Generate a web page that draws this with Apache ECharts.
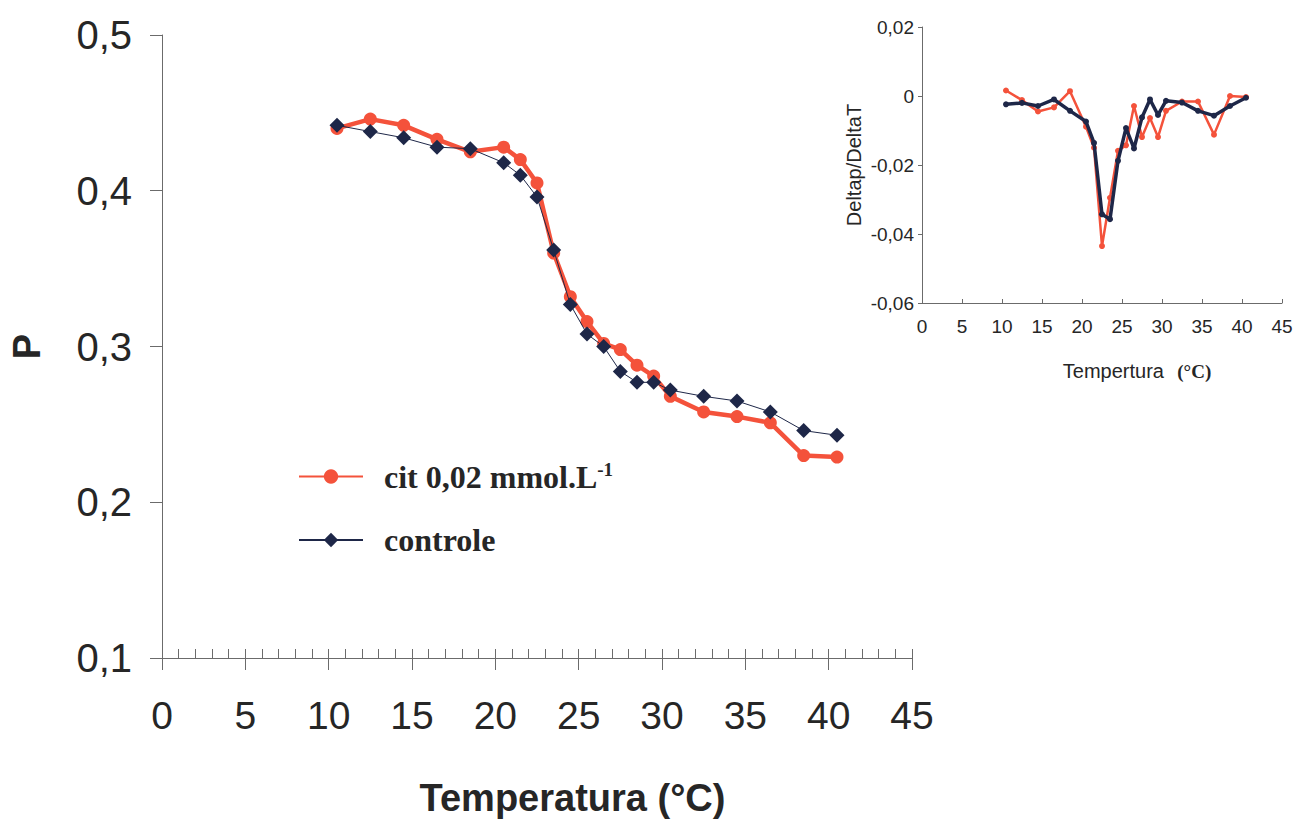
<!DOCTYPE html>
<html>
<head>
<meta charset="utf-8">
<script src="https://cdn.jsdelivr.net/npm/echarts@6/dist/echarts.min.js"></script>
<style>
  html, body { margin: 0; padding: 0; background: #ffffff; }
  #chart { width: 1296px; height: 822px; }
</style>
</head>
<body>
<div id="chart"></div>
<script>
// Temperatures (°C) at which P was measured
const temps = [10.5, 12.5, 14.5, 16.5, 18.5, 20.5, 21.5, 22.5, 23.5, 24.5, 25.5, 26.5, 27.5, 28.5, 29.5, 30.5, 32.5, 34.5, 36.5, 38.5, 40.5];
// Main chart: polarization P
const pCit = [0.440, 0.446, 0.442, 0.433, 0.425, 0.428, 0.420, 0.405, 0.360, 0.332, 0.316, 0.302, 0.298, 0.288, 0.281, 0.268, 0.258, 0.255, 0.251, 0.230, 0.229];
const pControle = [0.442, 0.438, 0.434, 0.428, 0.427, 0.418, 0.410, 0.396, 0.362, 0.327, 0.308, 0.300, 0.284, 0.277, 0.277, 0.272, 0.268, 0.265, 0.258, 0.246, 0.243];
// Inset: Deltap/DeltaT
const dCit = [0.0016, -0.0012, -0.0045, -0.0033, 0.0014, -0.0089, -0.0150, -0.0435, -0.0295, -0.0159, -0.0143, -0.0029, -0.0119, -0.0064, -0.0119, -0.0043, -0.0016, -0.0016, -0.0112, 0.0000, -0.0003];
const dControle = [-0.0024, -0.0020, -0.0029, -0.0010, -0.0043, -0.0074, -0.0136, -0.0343, -0.0357, -0.0188, -0.0093, -0.0152, -0.0062, -0.0010, -0.0055, -0.0014, -0.0019, -0.0043, -0.0057, -0.0029, -0.0005];

const seriesNames = ['cit 0,02 mmol.L-1', 'controle'];
const mainYTicks = { min: 0.1, max: 0.5, step: 0.1 };
const insetYTicks = { min: -0.06, max: 0.02, step: 0.02 };
const xTicks = { min: 0, max: 45, step: 5 };

const RED = '#f4523b';
const NAVY = '#1e2748';
const TXT = '#262626';
const AXIS = '#6b6b6b';
const SANS = 'Arial, "Liberation Sans", sans-serif';
const NARROW = '"Liberation Sans Narrow", Arial, "Liberation Sans", sans-serif';
const SERIF = '"Times New Roman", "Liberation Serif", serif';

const zip = (xs, ys) => xs.map((x, i) => [x, ys[i]]);

const chart = echarts.init(document.getElementById('chart'), null, { renderer: 'svg' });

const option = {
  backgroundColor: '#ffffff',
  animation: false,
  grid: [
    { left: 160, top: 35, width: 752, height: 625 },
    { left: 922, top: 27, width: 360, height: 276 }
  ],
  legend: [
    {
      data: [seriesNames[0]],
      orient: 'vertical', left: 293, top: 455,
      itemWidth: 64, itemHeight: 18,
      formatter: () => 'cit 0,02 mmol.L{sup|-1}',
      textStyle: {
        fontFamily: SERIF, fontWeight: 'bold', fontSize: 32, color: TXT,
        padding: [0, 0, 0, 16],
        rich: { sup: { fontFamily: SERIF, fontWeight: 'bold', fontSize: 19, color: TXT, verticalAlign: 'top', padding: [0, 0, 14, 0] } }
      }
    },
    {
      data: [seriesNames[1]],
      orient: 'vertical', left: 293, top: 519,
      itemWidth: 64, itemHeight: 18,
      textStyle: {
        fontFamily: SERIF, fontWeight: 'bold', fontSize: 32, color: TXT,
        padding: [0, 0, 0, 16]
      }
    }
  ],
  xAxis: [
    {
      gridIndex: 0, type: 'value', min: xTicks.min, max: xTicks.max, interval: xTicks.step,
      axisLine: { onZero: false, lineStyle: { color: AXIS, width: 1 } },
      axisTick: { show: true, inside: false, length: 12, lineStyle: { color: AXIS } },
      splitLine: { show: false },
      axisLabel: { fontFamily: SANS, fontSize: 39, color: TXT, margin: 38 },
      name: 'Temperatura (°C)', nameLocation: 'middle', nameGap: 121,
      nameTextStyle: { fontFamily: SANS, fontWeight: 'bold', fontSize: 38, color: TXT, padding: [0, 0, 0, 71] }
    },
    {
      gridIndex: 0, type: 'value', min: xTicks.min, max: xTicks.max, interval: 1,
      axisLine: { show: false, onZero: false },
      axisTick: { show: true, inside: true, length: 9, lineStyle: { color: AXIS } },
      axisLabel: { show: false }, splitLine: { show: false }, position: 'bottom'
    },
    {
      gridIndex: 1, type: 'value', min: xTicks.min, max: xTicks.max, interval: xTicks.step,
      axisLine: { onZero: false, lineStyle: { color: AXIS, width: 1 } },
      axisTick: { show: true, inside: true, length: 4, lineStyle: { color: AXIS } },
      splitLine: { show: false },
      axisLabel: { fontFamily: NARROW, fontSize: 19, color: TXT, margin: 14 },
      name: '{a|Tempertura}    {b|(°C)}', nameLocation: 'middle', nameGap: 58,
      nameTextStyle: {
        padding: [0, 0, 0, 70],
        rich: {
          a: { fontFamily: NARROW, fontSize: 20, color: TXT },
          b: { fontFamily: SERIF, fontWeight: 'bold', fontSize: 19, color: TXT }
        }
      }
    }
  ],
  yAxis: [
    {
      gridIndex: 0, type: 'value', min: mainYTicks.min, max: mainYTicks.max, interval: mainYTicks.step,
      axisLine: { show: true, onZero: false, lineStyle: { color: AXIS, width: 1 } },
      axisTick: { show: true, inside: false, length: 12, lineStyle: { color: AXIS } },
      splitLine: { show: false },
      axisLabel: { fontFamily: SANS, fontSize: 40, color: TXT, margin: 30,
        formatter: v => v.toFixed(1).replace('.', ',') },
      name: 'P', nameLocation: 'middle', nameGap: 116, nameRotate: 90,
      nameTextStyle: { fontFamily: SANS, fontWeight: 'bold', fontSize: 38, color: TXT }
    },
    {
      gridIndex: 1, type: 'value', min: insetYTicks.min, max: insetYTicks.max, interval: insetYTicks.step,
      axisLine: { show: true, onZero: false, lineStyle: { color: AXIS, width: 1 } },
      axisTick: { show: true, inside: false, length: 4, lineStyle: { color: AXIS } },
      splitLine: { show: false },
      axisLabel: { fontFamily: NARROW, fontSize: 19, color: TXT, margin: 8,
        formatter: v => { const r = Math.round(v * 100) / 100; return r === 0 ? '0' : r.toFixed(2).replace('.', ','); } },
      name: 'Deltap/DeltaT', nameLocation: 'middle', nameGap: 58, nameRotate: 90,
      nameTextStyle: { fontFamily: SANS, fontSize: 20, color: TXT }
    }
  ],
  series: [
    {
      name: seriesNames[0], type: 'line', xAxisIndex: 0, yAxisIndex: 0,
      data: zip(temps, pCit),
      symbol: 'circle', symbolSize: 13,
      lineStyle: { color: RED, width: 4.5 }, itemStyle: { color: RED },
      z: 2
    },
    {
      name: seriesNames[1], type: 'line', xAxisIndex: 0, yAxisIndex: 0,
      data: zip(temps, pControle),
      symbol: 'diamond', symbolSize: 15,
      lineStyle: { color: NAVY, width: 1 }, itemStyle: { color: NAVY },
      z: 3
    },
    {
      name: 'inset cit', type: 'line', xAxisIndex: 2, yAxisIndex: 1,
      data: zip(temps, dCit),
      symbol: 'circle', symbolSize: 6,
      lineStyle: { color: RED, width: 2.5 }, itemStyle: { color: RED },
      z: 2
    },
    {
      name: 'inset controle', type: 'line', xAxisIndex: 2, yAxisIndex: 1,
      data: zip(temps, dControle),
      symbol: 'circle', symbolSize: 6,
      lineStyle: { color: NAVY, width: 3.5 }, itemStyle: { color: NAVY },
      z: 3
    }
  ]
};
chart.setOption(option);
</script>
</body>
</html>
